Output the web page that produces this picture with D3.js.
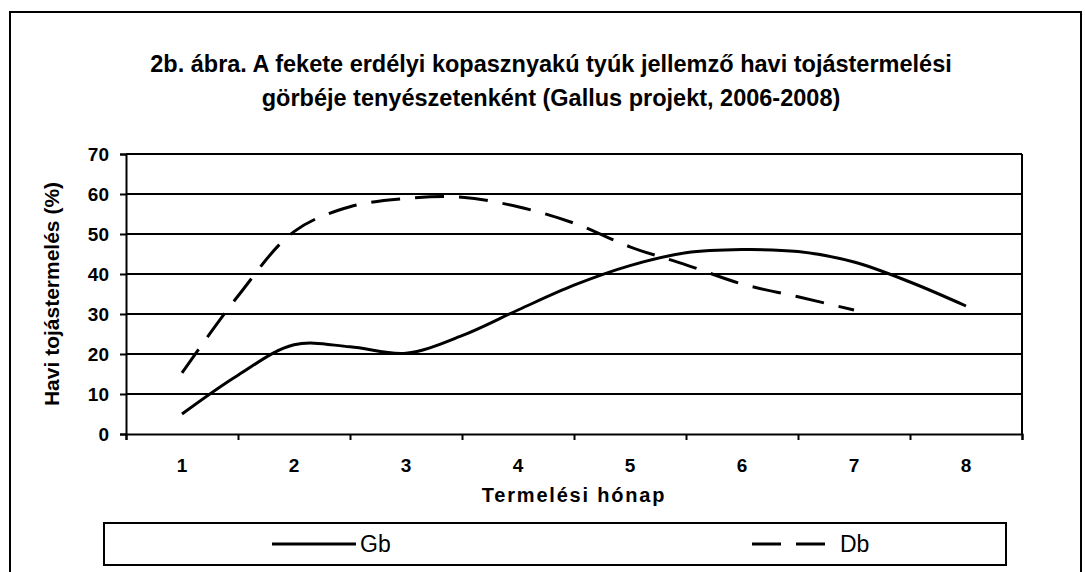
<!DOCTYPE html>
<html>
<head>
<meta charset="utf-8">
<script src="https://cdn.jsdelivr.net/npm/d3@7"></script>
<style>
  body { margin: 0; background: #fff; }
  svg { display: block; font-family: "Liberation Sans", Arial, sans-serif; }
</style>
</head>
<body>
<div id="chart"></div>
<script>
// adatok: havi tojástermelés (%), félhavi pontokkal
const months = [1, 1.5, 2, 2.5, 3, 3.5, 4, 4.5, 5, 5.5, 6, 6.5, 7, 7.5, 8]
const gbValues = [5, 14.7, 22.3, 21.8, 20.2, 24.6, 31, 37.2, 42.1, 45.3, 46.1, 45.6, 43, 38, 32]
const dbValues = [15.3, 34.5, 50.6, 56.8, 58.9, 59.2, 56.8, 52.7, 46.8, 42.3, 37.5, 34.3, 31]
const xTickLabels = [1, 2, 3, 4, 5, 6, 7, 8]
const yTicks = [0, 10, 20, 30, 40, 50, 60, 70]
const titleLines = [
  "2b. ábra. A fekete erdélyi kopasznyakú tyúk jellemző havi tojástermelési",
  "görbéje tenyészetenként (Gallus projekt, 2006-2008)"
]

const width = 1085, height = 572
const plot = { left: 126, right: 1022, top: 154, bottom: 434 }

const svg = d3.select("#chart").append("svg")
  .attr("width", width)
  .attr("height", height)

// külső keret
svg.append("rect")
  .attr("x", 10).attr("y", 12)
  .attr("width", 1071).attr("height", 580)
  .attr("fill", "none").attr("stroke", "#000").attr("stroke-width", 2)

// cím
svg.append("g").selectAll("text")
  .data(titleLines)
  .join("text")
  .attr("x", 551)
  .attr("y", (d, i) => 72 + i * 34)
  .attr("text-anchor", "middle")
  .attr("font-weight", "bold")
  .attr("font-size", 23.5)
  .text(d => d)

const x = d3.scaleLinear().domain([0.5, 8.5]).range([plot.left, plot.right])
const y = d3.scaleLinear().domain([0, 70]).range([plot.bottom, plot.top])

// rácsvonalak
svg.append("g").selectAll("line")
  .data(yTicks.filter(v => v > 0))
  .join("line")
  .attr("x1", plot.left).attr("x2", plot.right)
  .attr("y1", d => y(d)).attr("y2", d => y(d))
  .attr("stroke", "#000").attr("stroke-width", 2)

// jobb oldali keret
svg.append("line")
  .attr("x1", plot.right).attr("x2", plot.right)
  .attr("y1", plot.top).attr("y2", plot.bottom)
  .attr("stroke", "#000").attr("stroke-width", 2)

// Y tengely
const yAxis = svg.append("g")
  .attr("transform", `translate(${plot.left},0)`)
  .call(d3.axisLeft(y).tickValues(yTicks).tickSize(6).tickPadding(11))
yAxis.select(".domain").attr("stroke-width", 2)
yAxis.selectAll(".tick line").attr("stroke-width", 2)
yAxis.selectAll("text")
  .attr("font-family", "Liberation Sans, Arial, sans-serif")
  .attr("font-size", 19).attr("font-weight", "bold").attr("fill", "#000")

// X tengely: osztásjelek a hónapok között, feliratok középen
const xAxis = svg.append("g")
  .attr("transform", `translate(0,${plot.bottom})`)
  .call(d3.axisBottom(x).tickValues(d3.range(0.5, 9, 1)).tickSize(6).tickFormat(""))
xAxis.select(".domain").attr("stroke-width", 2)
xAxis.selectAll(".tick line").attr("stroke-width", 2)

svg.append("g").selectAll("text")
  .data(xTickLabels)
  .join("text")
  .attr("x", d => x(d))
  .attr("y", 472)
  .attr("text-anchor", "middle")
  .attr("font-size", 19).attr("font-weight", "bold")
  .text(d => d)

// tengelycímek
svg.append("text")
  .attr("x", 574).attr("y", 502)
  .attr("text-anchor", "middle")
  .attr("font-size", 20).attr("font-weight", "bold")
  .attr("letter-spacing", 1.8)
  .text("Termelési hónap")

svg.append("text")
  .attr("transform", `translate(59,${(plot.top + plot.bottom) / 2}) rotate(-90)`)
  .attr("text-anchor", "middle")
  .attr("font-size", 21).attr("font-weight", "bold")
  .text("Havi tojástermelés (%)")

// görbék
const line = d3.line()
  .x(d => x(d[0]))
  .y(d => y(d[1]))
  .curve(d3.curveCatmullRom.alpha(0.5))

svg.append("path")
  .datum(gbValues.map((v, i) => [months[i], v]))
  .attr("fill", "none").attr("stroke", "#000").attr("stroke-width", 3)
  .attr("d", line)

svg.append("path")
  .datum(dbValues.map((v, i) => [months[i], v]))
  .attr("fill", "none").attr("stroke", "#000").attr("stroke-width", 3)
  .attr("stroke-dasharray", "29,15")
  .attr("d", line)

// jelmagyarázat
const legend = svg.append("g")
legend.append("rect")
  .attr("x", 104).attr("y", 523)
  .attr("width", 902).attr("height", 42)
  .attr("fill", "#fff").attr("stroke", "#000").attr("stroke-width", 2)

legend.append("line")
  .attr("x1", 272).attr("x2", 356).attr("y1", 544).attr("y2", 544)
  .attr("stroke", "#000").attr("stroke-width", 3)
legend.append("text")
  .attr("x", 360).attr("y", 552)
  .attr("font-size", 23)
  .text("Gb")

legend.append("line")
  .attr("x1", 752).attr("x2", 836).attr("y1", 544).attr("y2", 544)
  .attr("stroke", "#000").attr("stroke-width", 3)
  .attr("stroke-dasharray", "29,15")
legend.append("text")
  .attr("x", 840).attr("y", 552)
  .attr("font-size", 23)
  .text("Db")
</script>
</body>
</html>
